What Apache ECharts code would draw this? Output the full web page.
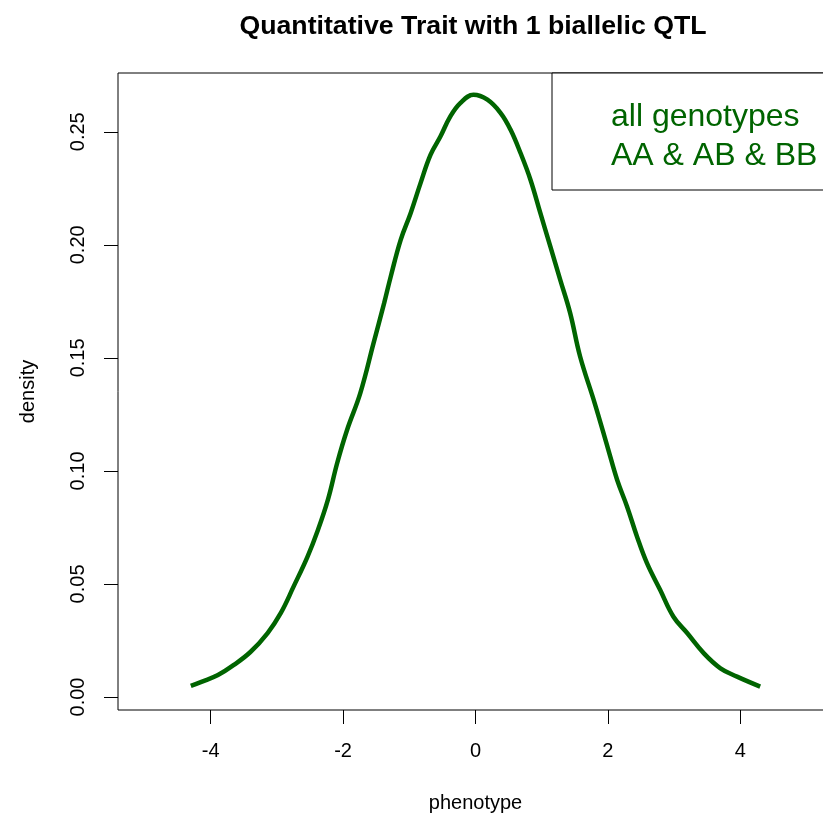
<!DOCTYPE html>
<html lang="en">
<head>
    <meta charset="UTF-8">
    <title>Quantitative Trait with 1 biallelic QTL</title>
    <script src="https://cdn.jsdelivr.net/npm/echarts@6/dist/echarts.min.js"></script>
    <style>
        *{
            margin:0;
            padding:0;
        }
        #main {
            width: 823px;
            height: 817px;
            background: #fff;
        }
    </style>
</head>
<body>
<div id="main"></div>
<script>
    // density curve
    var phenotype = [-4.30, -4.15, -3.89, -3.65, -3.40, -3.14, -2.94, -2.75, -2.54, -2.38, -2.23, -2.09,
        -1.94, -1.74, -1.54, -1.38, -1.28, -1.13, -0.98, -0.83, -0.68, -0.53, -0.38, -0.23, -0.03,
        0.18, 0.38, 0.53, 0.68, 0.83, 0.98, 1.13, 1.28, 1.43, 1.58, 1.80, 2.00, 2.14, 2.29, 2.44,
        2.59, 2.79, 2.99, 3.20, 3.45, 3.70, 3.95, 4.30];
    var density = [0.0049, 0.0066, 0.0097, 0.0142, 0.0199, 0.0283, 0.0372, 0.0487, 0.0619, 0.0739, 0.0872, 0.1034,
        0.1181, 0.1344, 0.1565, 0.1742, 0.1860, 0.2022, 0.2140, 0.2273, 0.2398, 0.2479, 0.2568, 0.2627, 0.2664,
        0.2642, 0.2583, 0.2509, 0.2406, 0.2288, 0.2140, 0.1993, 0.1845, 0.1698, 0.1506, 0.1300, 0.1100, 0.0960, 0.0842, 0.0709,
        0.0592, 0.0473, 0.0355, 0.0282, 0.0193, 0.0127, 0.0090, 0.0046];

    var xTicks = [-4, -2, 0, 2, 4];
    var yTicks = [0, 0.05, 0.10, 0.15, 0.20, 0.25];
    var legendLines = ['all genotypes', 'AA & AB & BB'];

    var font = 'Liberation Sans, Arial, sans-serif';
    var green = '#006400';

    var points = [];
    for (var i = 0; i < phenotype.length; i++) {
        points.push([phenotype[i], density[i]]);
    }

    var chart = echarts.init(document.getElementById('main'));

    var option = {
        backgroundColor: '#fff',
        animation: false,
        title: {
            text: 'Quantitative Trait with 1 biallelic QTL',
            left: 468,
            top: 8,
            textAlign: 'center',
            textStyle: {
                fontFamily: font,
                fontWeight: 'bold',
                fontSize: 26.7,
                color: '#000'
            }
        },
        grid: {
            show: true,
            left: 118,
            top: 73,
            bottom: 107,
            width: 715,
            borderColor: '#000',
            borderWidth: 1,
            backgroundColor: 'transparent',
            outerBoundsMode: 'none'
        },
        xAxis: {
            type: 'value',
            min: -5.4,
            max: 5.4,
            name: 'phenotype',
            nameLocation: 'middle',
            nameGap: 83,
            nameTextStyle: { fontFamily: font, fontSize: 20, color: '#000' },
            splitLine: { show: false },
            axisLine: { show: false, onZero: false },
            axisTick: {
                show: true,
                length: 14,
                customValues: xTicks,
                lineStyle: { color: '#000', width: 1 }
            },
            axisLabel: {
                customValues: xTicks,
                margin: 31,
                fontFamily: font,
                fontSize: 20,
                color: '#000'
            }
        },
        yAxis: {
            type: 'value',
            min: -0.00575,
            max: 0.276,
            name: 'density',
            nameLocation: 'middle',
            nameGap: 80,
            nameRotate: 90,
            nameTextStyle: { fontFamily: font, fontSize: 20, color: '#000' },
            splitLine: { show: false },
            axisLine: { show: false, onZero: false },
            axisTick: {
                show: true,
                length: 14,
                customValues: yTicks,
                lineStyle: { color: '#000', width: 1 }
            },
            axisLabel: {
                customValues: yTicks,
                rotate: 90,
                margin: 30,
                fontFamily: font,
                fontSize: 20,
                color: '#000',
                formatter: function (v) { return v.toFixed(2); }
            }
        },
        series: [
            {
                type: 'line',
                data: points,
                smooth: 0.4,
                showSymbol: false,
                lineStyle: { color: green, width: 4.5 }
            }
        ],
        graphic: [
            {
                type: 'rect',
                shape: { x: 552, y: 73, width: 300, height: 117 },
                style: { fill: '#fff', stroke: '#000', lineWidth: 1 },
                z: 10
            },
            {
                type: 'text',
                x: 611,
                y: 117,
                style: {
                    text: legendLines[0],
                    fill: green,
                    font: '32px ' + font,
                    textVerticalAlign: 'middle'
                },
                z: 11
            },
            {
                type: 'text',
                x: 611,
                y: 156,
                style: {
                    text: legendLines[1],
                    fill: green,
                    font: '32px ' + font,
                    textVerticalAlign: 'middle'
                },
                z: 11
            }
        ]
    };

    chart.setOption(option);
</script>
</body>
</html>
